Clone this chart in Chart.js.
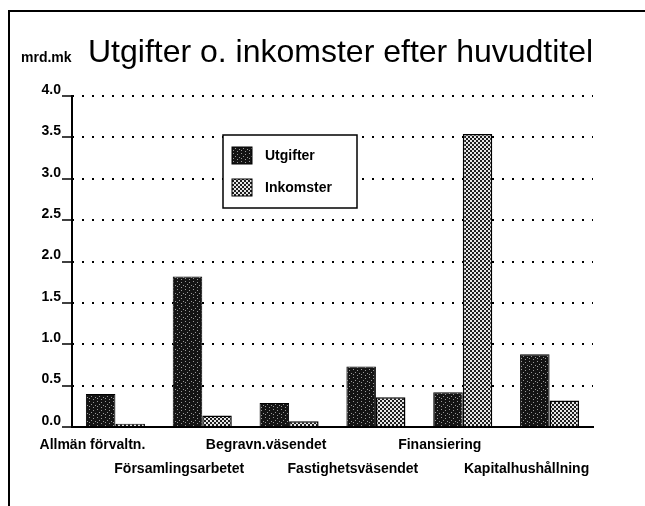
<!DOCTYPE html>
<html>
<head>
<meta charset="utf-8">
<script src="https://cdn.jsdelivr.net/npm/chart.js@4/dist/chart.umd.min.js"></script>
<style>
  html, body { margin: 0; padding: 0; background: #fff; }
  #wrap { width: 645px; height: 506px; position: relative; }
</style>
</head>
<body>
<div id="wrap"><canvas id="c" width="645" height="506"></canvas></div>
<script>
const categories = ['Allmän förvaltn.', 'Församlingsarbetet', 'Begravn.väsendet', 'Fastighetsväsendet', 'Finansiering', 'Kapitalhushållning'];
const utgifter  = [0.40, 1.82, 0.29, 0.73, 0.42, 0.88];
const inkomster = [0.04, 0.14, 0.07, 0.36, 3.54, 0.32];
const seriesNames = ['Utgifter', 'Inkomster'];
const yTicks = [0, 0.5, 1.0, 1.5, 2.0, 2.5, 3.0, 3.5, 4.0];
const unitLabel = 'mrd.mk';
const titleText = 'Utgifter o. inkomster efter huvudtitel';

function patternDark() {
  const c = document.createElement('canvas');
  c.width = 8; c.height = 8;
  const g = c.getContext('2d');
  g.fillStyle = '#141414'; g.fillRect(0, 0, 8, 8);
  g.fillStyle = '#9a9a9a';
  [[1,1],[5,2],[3,4],[7,5],[1,6],[5,7]].forEach(p => g.fillRect(p[0], p[1], 1, 1));
  return g.createPattern(c, 'repeat');
}
function patternChecker() {
  const c = document.createElement('canvas');
  c.width = 4; c.height = 4;
  const g = c.getContext('2d');
  g.fillStyle = '#e6e6e6'; g.fillRect(0, 0, 4, 4);
  g.fillStyle = '#1e1e1e';
  g.fillRect(0, 0, 2, 2); g.fillRect(2, 2, 2, 2);
  return g.createPattern(c, 'repeat');
}

// staggered category labels (every second one on the lower line)
const xLabels = categories.map((c, i) => i % 2 === 0 ? [c, ''] : ['', c]);

const decorPlugin = {
  id: 'decor',
  beforeDraw(chart) {
    const ctx = chart.ctx;
    ctx.save();
    ctx.fillStyle = '#000';
    ctx.fillRect(8, 10, 2, chart.height - 10);
    ctx.fillRect(8, 10, chart.width - 8, 2);
    ctx.restore();
  },
  afterDraw(chart) {
    const ctx = chart.ctx;
    const a = chart.chartArea;
    ctx.save();
    ctx.fillStyle = '#000';
    ctx.textBaseline = 'alphabetic';
    ctx.font = 'bold 14px "Liberation Sans", Arial, sans-serif';
    ctx.fillText(unitLabel, 21, 62);
    ctx.font = '32px "Liberation Sans", Arial, sans-serif';
    ctx.fillText(titleText, 88, 62);

    // legend box
    const bx = a.left + 151, by = a.top + 39, bw = 134, bh = 73;
    ctx.fillStyle = '#fff';
    ctx.fillRect(bx, by, bw, bh);
    ctx.lineWidth = 1.5;
    ctx.strokeStyle = '#000';
    ctx.strokeRect(bx, by, bw, bh);
    ctx.font = 'bold 14px "Liberation Sans", Arial, sans-serif';
    ctx.textBaseline = 'middle';
    chart.data.datasets.forEach((ds, i) => {
      const sy = by + 12 + i * 32;
      ctx.fillStyle = ds.backgroundColor;
      ctx.fillRect(bx + 9, sy, 20, 17);
      ctx.lineWidth = 1;
      ctx.strokeRect(bx + 9, sy, 20, 17);
      ctx.fillStyle = '#000';
      ctx.fillText(ds.label, bx + 42, sy + 9);
    });
    ctx.restore();
  }
};

new Chart(document.getElementById('c'), {
  type: 'bar',
  data: {
    labels: xLabels,
    datasets: [
      { label: seriesNames[0], data: utgifter, backgroundColor: patternDark(), borderColor: '#000', borderWidth: 1 },
      { label: seriesNames[1], data: inkomster, backgroundColor: patternChecker(), borderColor: '#000', borderWidth: 1.5 }
    ]
  },
  options: {
    responsive: false,
    animation: false,
    layout: { padding: { top: 96, right: 52, left: 0, bottom: 0 } },
    plugins: { legend: { display: false }, tooltip: { enabled: false }, title: { display: false } },
    datasets: { bar: { categoryPercentage: 0.68, barPercentage: 1.0 } },
    scales: {
      x: {
        grid: { display: true, drawOnChartArea: false, drawTicks: false },
        border: { display: true, color: '#000', width: 2 },
        ticks: {
          color: '#000',
          font: { family: '"Liberation Sans", Arial, sans-serif', size: 14, weight: 'bold', lineHeight: 1.65 },
          padding: 7, labelOffset: -23, maxRotation: 0, minRotation: 0, autoSkip: false
        },
        afterFit(s) { s.height = 79; }
      },
      y: {
        min: 0, max: 4,
        afterBuildTicks(s) { s.ticks = yTicks.map(v => ({ value: v })); },
        grid: { color: '#000', lineWidth: 2, tickLength: 10, tickWidth: 1.5, tickBorderDash: [], tickColor: '#000' },
        border: { display: true, color: '#000', width: 2, dash: [2, 8], dashOffset: -9 },
        ticks: {
          color: '#000',
          font: { family: '"Liberation Sans", Arial, sans-serif', size: 14, weight: 'bold' },
          padding: 1, labelOffset: -6,
          callback: v => Number(v).toFixed(1)
        },
        afterFit(s) { s.width = 72; }
      }
    }
  },
  plugins: [decorPlugin]
});
</script>
</body>
</html>
